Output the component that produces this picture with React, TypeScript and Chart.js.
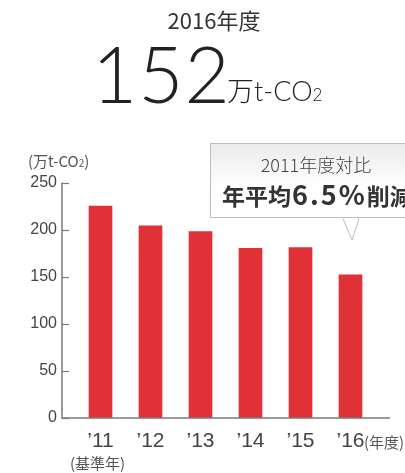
import React, { useEffect, useRef } from "react";
import { Chart, registerables } from "chart.js";

Chart.register(...registerables);

const categories = ["’11", "’12", "’13", "’14", "’15", "’16"];
const emissions = [225, 204, 198, 180, 181, 152];
const yTicks = [0, 50, 100, 150, 200, 250];

const BAR = "#e03236";
const AXIS = "#7a7a7a";
const CJK = "'Noto Sans CJK JP', 'Noto Sans', sans-serif";

const axisPlugin = {
  id: "axisLines",
  afterDraw(chart: any) {
    const { ctx, scales } = chart;
    const y = scales.y;
    const x0 = 62;
    const y0 = y.getPixelForValue(0);
    const yTop = y.getPixelForValue(250);
    ctx.save();
    ctx.strokeStyle = AXIS;
    ctx.lineWidth = 1.5;
    ctx.beginPath();
    ctx.moveTo(x0, yTop);
    ctx.lineTo(x0, y0);
    ctx.lineTo(390, y0);
    ctx.stroke();
    ctx.lineWidth = 1.2;
    yTicks.forEach((v) => {
      const py = Math.round(y.getPixelForValue(v)) + 0.5;
      ctx.beginPath();
      ctx.moveTo(x0, py);
      ctx.lineTo(x0 + 7, py);
      ctx.stroke();
    });
    ctx.restore();
  },
};

export default function App() {
  const ref = useRef<HTMLCanvasElement | null>(null);
  useEffect(() => {
    if (!ref.current) return;
    const chart = new Chart(ref.current, {
      type: "bar",
      data: {
        labels: categories,
        datasets: [
          {
            data: emissions,
            backgroundColor: BAR,
            borderWidth: 0,
            barThickness: 23,
          },
        ],
      },
      options: {
        responsive: false,
        animation: false,
        layout: { padding: { top: 182.5, right: 29.5, left: 0, bottom: 0 } },
        plugins: { legend: { display: false }, tooltip: { enabled: false } },
        scales: {
          x: {
            offset: true,
            grid: { display: false, drawTicks: false },
            border: { display: false },
            ticks: {
              color: "#444",
              font: { family: "'Liberation Sans', Arial, sans-serif", size: 21 },
              padding: 11,
              maxRotation: 0,
            },
            afterFit(scale: any) {
              scale.height = 55;
            },
          },
          y: {
            min: 0,
            max: 250,
            grid: { display: false, drawTicks: false },
            border: { display: false },
            ticks: {
              stepSize: 50,
              color: "#444",
              font: { family: "'Liberation Sans', Arial, sans-serif", size: 16 },
              padding: 18.5,
            },
            afterFit(scale: any) {
              scale.width = 75.5;
            },
          },
        },
      },
      plugins: [axisPlugin],
    });
    return () => chart.destroy();
  }, []);

  const abs = (o: React.CSSProperties): React.CSSProperties => ({
    position: "absolute",
    whiteSpace: "nowrap",
    lineHeight: 1,
    ...o,
  });

  return (
    <div
      style={{
        position: "fixed",
        left: 0,
        top: 0,
        width: 405,
        height: 473,
        overflow: "hidden",
        background: "#fff",
        fontFamily: CJK,
      }}
    >
      <canvas ref={ref} width={405} height={473} style={{ position: "absolute", left: 0, top: 0 }} />

      <div style={abs({ left: 0, width: 428, top: 8, textAlign: "center", fontSize: 22, color: "#333", fontFamily: CJK })}>
        2016年度
      </div>
      <div style={abs({ left: 92, top: 34, fontSize: 78, fontWeight: 300, color: "#222", fontFamily: "Lato, 'Open Sans', sans-serif", letterSpacing: 1 })}>
        152
      </div>
      <div style={abs({ left: 227, top: 77, fontSize: 27, fontWeight: 300, color: "#222", fontFamily: "Lato, " + CJK })}>
        万t-CO<span style={{ fontSize: 17 }}>2</span>
      </div>

      <div style={abs({ left: 28, top: 153, fontSize: 15, color: "#555", fontFamily: CJK })}>
        (万t-CO<span style={{ fontSize: 10 }}>2</span>)
      </div>

      <div
        style={{
          position: "absolute",
          left: 210,
          top: 143,
          width: 220,
          height: 75,
          boxSizing: "border-box",
          border: "1px solid #bdbdbd",
          background: "linear-gradient(#ebebeb, #ffffff 60%)",
        }}
      />
      <svg width={405} height={473} style={{ position: "absolute", left: 0, top: 0 }}>
        <polygon points="343,218 352,240 359,218" fill="#fff" />
        <polyline points="343,218.5 352,240 359,218.5" fill="none" stroke="#bdbdbd" strokeWidth={1} />
      </svg>
      <div style={abs({ left: 210, width: 212, top: 155, textAlign: "center", fontSize: 18, fontWeight: 300, color: "#444" })}>
        2011年度対比
      </div>
      <div style={abs({ left: 222, top: 180, fontSize: 23, fontWeight: 700, color: "#333" })}>
        年平均<span style={{ fontSize: 27, letterSpacing: 2, marginLeft: 1 }}>6.5%</span>削減
      </div>

      <div style={abs({ left: 70, top: 455, fontSize: 15, color: "#555" })}>(基準年)</div>
      <div style={abs({ left: 364, top: 434, fontSize: 15, color: "#555" })}>(年度)</div>
    </div>
  );
}
